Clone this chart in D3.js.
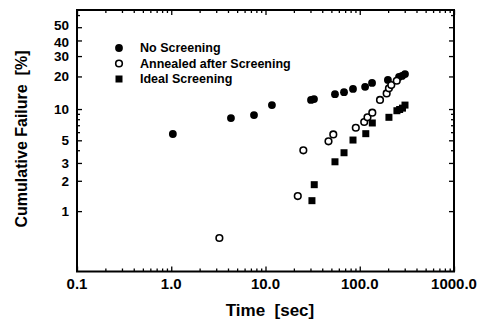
<!DOCTYPE html>
<html>
<head>
<meta charset="utf-8">
<script src="https://cdn.jsdelivr.net/npm/d3@7"></script>
<style>
  body { margin: 0; background: #fff; }
  svg { font-family: 'Liberation Sans', Arial, sans-serif; font-weight: bold; }
</style>
</head>
<body>
<div id="chart"></div>
<script>
// values (time in sec, cumulative failure in %)
const noScreenTime = [1.04, 4.3, 7.55, 11.7, 30.4, 32.7, 54.6, 68.1, 84.8, 114, 135, 199, 261, 281, 302]
const noScreenFail = [5.76, 8.21, 8.77, 10.9, 12.2, 12.4, 13.8, 14.4, 15.4, 16.1, 17.5, 18.6, 19.8, 20.2, 21.0]

const annealTime = [3.24, 22.0, 25.2, 46.6, 52.4, 90.8, 111.5, 120.8, 135.9, 164, 193, 204, 216, 247]
const annealFail = [0.54, 1.41, 3.99, 4.89, 5.71, 6.62, 7.52, 8.34, 9.23, 12.2, 14.0, 15.6, 16.7, 18.3]

const idealTime = [31.1, 32.9, 54.6, 68.1, 84.8, 115.9, 135.9, 204, 248, 265, 284, 302]
const idealFail = [1.27, 1.83, 3.08, 3.78, 5.03, 5.80, 7.36, 8.34, 9.64, 9.90, 10.2, 10.9]

const xTicks = [0.1, 1, 10, 100, 1000]
const xTickLabels = ['0.1', '1.0', '10.0', '100.0', '1000.0']
const yTicks = [1, 2, 3, 5, 10, 20, 30, 40, 50]
const yMinorTicks = [4, 6, 7, 8, 9, 60]
const legendLabels = ['No Screening', 'Annealed after Screening', 'Ideal Screening']

const width = 483
const height = 332
const plot = {left: 77, right: 454, top: 10, bottom: 271.5}

// weibull probability paper: ln(-ln(1-F))
const weib = (p) => Math.log(-Math.log(1 - p / 100))

const x = d3.scaleLog()
  .domain([0.1, 1000])
  .range([plot.left, plot.right])
const yLin = d3.scaleLinear()
  .domain([weib(0.25), weib(64.3)])
  .range([plot.bottom, plot.top])
const y = (p) => yLin(weib(p))

const xMinor = []
for (let e = -1; e < 3; e++) {
  for (let m = 2; m < 10; m++) xMinor.push(m * Math.pow(10, e))
}

const svg = d3.select('#chart')
  .append('svg')
    .attr('width', width)
    .attr('height', height)

const addAxis = (axis, tx, ty) => {
  const g = svg.append('g')
    .attr('transform', `translate(${tx},${ty})`)
    .call(axis)
  g.select('.domain').remove()
  g.selectAll('line').attr('stroke', '#000').attr('stroke-width', 1.3)
  return g
}

// ticks pointing into the plot, on all four sides
addAxis(d3.axisBottom(x).tickValues(xTicks).tickSize(-5).tickFormat(''), 0, plot.bottom)
addAxis(d3.axisBottom(x).tickValues(xMinor).tickSize(-3).tickFormat(''), 0, plot.bottom)
addAxis(d3.axisTop(x).tickValues(xTicks).tickSize(-5).tickFormat(''), 0, plot.top)
addAxis(d3.axisTop(x).tickValues(xMinor).tickSize(-3).tickFormat(''), 0, plot.top)

addAxis(d3.axisLeft(yLin).tickValues(yTicks.map(weib)).tickSize(-5).tickFormat(''), plot.left, 0)
addAxis(d3.axisLeft(yLin).tickValues(yMinorTicks.map(weib)).tickSize(-3).tickFormat(''), plot.left, 0)
addAxis(d3.axisRight(yLin).tickValues(yTicks.map(weib)).tickSize(-5).tickFormat(''), plot.right, 0)
addAxis(d3.axisRight(yLin).tickValues(yMinorTicks.map(weib)).tickSize(-3).tickFormat(''), plot.right, 0)

svg.append('rect')
  .attr('x', plot.left)
  .attr('y', plot.top)
  .attr('width', plot.right - plot.left)
  .attr('height', plot.bottom - plot.top)
  .attr('fill', 'none')
  .attr('stroke', '#000')
  .attr('stroke-width', 2)

// tick labels
svg.selectAll('.xlab')
  .data(xTicks)
  .enter()
  .append('text')
    .attr('class', 'xlab')
    .attr('x', (d) => x(d))
    .attr('y', 289)
    .attr('text-anchor', 'middle')
    .style('font-size', '15px')
    .text((d, i) => xTickLabels[i])

// 50 and 40 sit very close on this scale, nudge them apart a little
const yNudge = {50: -2, 40: 1.5}
svg.selectAll('.ylab')
  .data(yTicks)
  .enter()
  .append('text')
    .attr('class', 'ylab')
    .attr('x', 69)
    .attr('y', (d) => y(d) + 5 + (yNudge[d] || 0))
    .attr('text-anchor', 'end')
    .style('font-size', '13.5px')
    .text(String)

// axis titles
svg.append('text')
  .attr('x', 270)
  .attr('y', 316)
  .attr('text-anchor', 'middle')
  .style('font-size', '17px')
  .style('white-space', 'pre')
  .text('Time  [sec]')

svg.append('text')
  .attr('transform', 'translate(27,139) rotate(-90)')
  .attr('text-anchor', 'middle')
  .style('font-size', '16px')
  .style('white-space', 'pre')
  .text('Cumulative Failure  [%]')

// markers
const series = [
  {t: noScreenTime, f: noScreenFail, kind: 'filled'},
  {t: annealTime, f: annealFail, kind: 'open'},
  {t: idealTime, f: idealFail, kind: 'square'}
]

const drawMarker = (g, kind) => {
  if (kind == 'square') {
    g.append('rect')
      .attr('x', -3.5).attr('y', -3.5)
      .attr('width', 7).attr('height', 7)
      .attr('fill', '#000')
  } else if (kind == 'open') {
    g.append('circle')
      .attr('r', 3.3)
      .attr('fill', '#fff')
      .attr('stroke', '#000')
      .attr('stroke-width', 1.6)
  } else {
    g.append('circle')
      .attr('r', 3.9)
      .attr('fill', '#000')
  }
}

series.forEach(s => {
  svg.selectAll(null)
    .data(s.t.map((t, i) => [t, s.f[i]]))
    .enter()
    .append('g')
      .attr('transform', (d) => `translate(${x(d[0])},${y(d[1])})`)
      .each(function () { drawMarker(d3.select(this), s.kind) })
})

// legend
const legend = svg.append('g')
  .attr('transform', 'translate(119,48)')
legendLabels.forEach((label, i) => {
  const row = legend.append('g')
    .attr('transform', `translate(0,${i * 15.5})`)
  drawMarker(row, series[i].kind)
  row.append('text')
    .attr('x', 21)
    .attr('y', 4)
    .style('font-size', '12.5px')
    .text(label)
})
</script>
</body>
</html>
